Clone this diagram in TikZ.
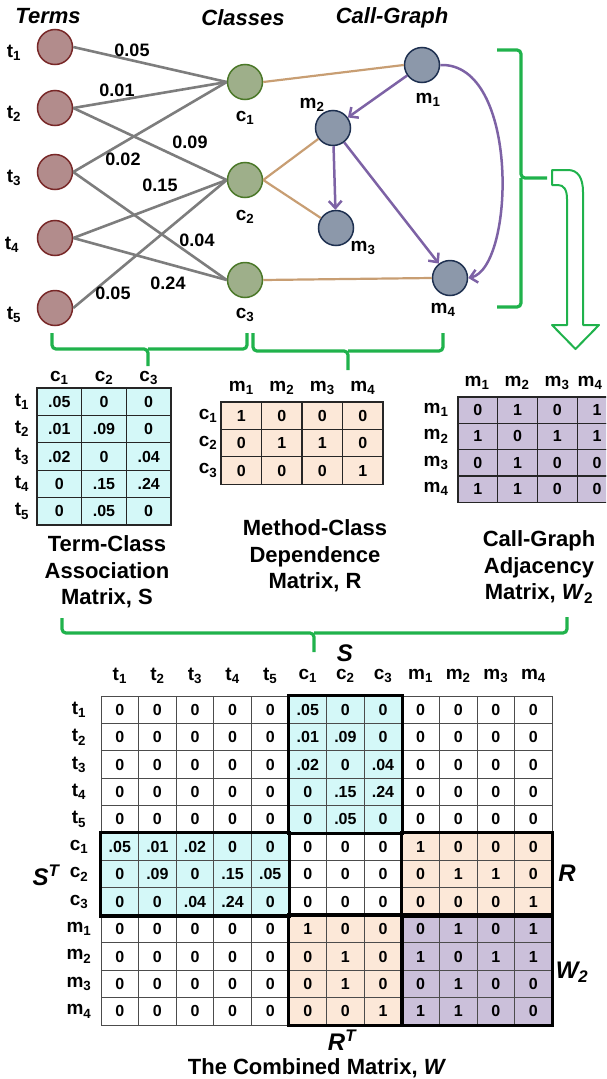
\documentclass[tikz,border=0pt]{standalone}
\usepackage{fontspec}
\setmainfont{Liberation Sans}
\usetikzlibrary{arrows.meta,backgrounds}

\definecolor{termfill}{RGB}{178,140,140}
\definecolor{termline}{RGB}{120,40,40}
\definecolor{clsfill}{RGB}{158,175,138}
\definecolor{clsline}{RGB}{75,120,40}
\definecolor{methfill}{RGB}{140,152,170}
\definecolor{methline}{RGB}{30,48,80}
\definecolor{tcgray}{RGB}{125,125,125}
\definecolor{cmtan}{RGB}{200,158,115}
\definecolor{callpurple}{RGB}{125,98,165}
\definecolor{bracegreen}{RGB}{32,178,76}
\definecolor{scyan}{RGB}{212,248,248}
\definecolor{rpeach}{RGB}{252,232,216}
\definecolor{wlav}{RGB}{203,192,218}

\newcommand{\sbs}[2]{#1\textsubscript{#2}}

\begin{document}
\begin{tikzpicture}[x=1pt, y=-1pt,
  term/.style={circle, draw=termline, fill=termfill, line width=1.5pt, minimum size=35pt, inner sep=0},
  cls/.style={circle, draw=clsline, fill=clsfill, line width=1.5pt, minimum size=35pt, inner sep=0},
  meth/.style={circle, draw=methline, fill=methfill, line width=1.5pt, minimum size=35pt, inner sep=0},
  lbl/.style={font=\fontsize{19}{19}\selectfont\bfseries, inner sep=0},
  wt/.style={font=\fontsize{18}{18}\selectfont\bfseries, inner sep=0},
  head/.style={font=\fontsize{22}{22}\selectfont\bfseries\itshape, inner sep=0},
  bigl/.style={font=\fontsize{24}{24}\selectfont\bfseries\itshape, inner sep=0},
  title/.style={font=\fontsize{22}{26.5}\selectfont\bfseries, align=center, inner sep=0},
  cell/.style={draw=black!85, line width=1.2pt, inner sep=0, font=\fontsize{16}{16}\selectfont\bfseries},
  scell/.style={cell, fill=scyan, minimum width=44.7pt, minimum height=27.4pt},
  rcell/.style={cell, fill=rpeach, minimum width=40.5pt, minimum height=27.4pt},
  wcell/.style={cell, fill=wlav, minimum width=39.7pt, minimum height=26.3pt},
  bcell/.style={cell, draw=black!70, line width=1pt, minimum width=37.6pt, minimum height=27.42pt},
  blk/.style={draw=black, line width=3.5pt},
  tcedge/.style={draw=tcgray, line width=2.6pt},
  cmedge/.style={draw=cmtan, line width=2.2pt},
  call/.style={draw=callpurple, line width=2.5pt, -{Straight Barb[length=7pt, width=13pt]}},
  brace/.style={draw=bracegreen, line width=3.2pt, rounded corners=4pt}]

\useasboundingbox (0,0) rectangle (606,1079);
\clip (0,0) rectangle (606,1079);

% graph
\node[head] (hterms) at (48,16) {Terms};
\node[head] (hclasses) at (243,18) {Classes};
\node[head] (hcall) at (392,18) {Call-Graph};

\node[term] (t1) at (55,47) {};
\node[term] (t2) at (55,108) {};
\node[term] (t3) at (55,172) {};
\node[term] (t4) at (55,238) {};
\node[term] (t5) at (55,308) {};
\node[lbl] (lt1) at (14,53) {\sbs{t}{1}};
\node[lbl] (lt2) at (14,114) {\sbs{t}{2}};
\node[lbl] (lt3) at (14,178) {\sbs{t}{3}};
\node[lbl] (lt4) at (12,245) {\sbs{t}{4}};
\node[lbl] (lt5) at (14,315) {\sbs{t}{5}};

\node[cls] (c1) at (245,82) {};
\node[cls] (c2) at (245,180) {};
\node[cls] (c3) at (245,280) {};
\node[lbl] (lc1) at (245,118) {\sbs{c}{1}};
\node[lbl] (lc2) at (245,217) {\sbs{c}{2}};
\node[lbl] (lc3) at (245,315) {\sbs{c}{3}};

\node[meth] (m1) at (422,65) {};
\node[meth] (m2) at (333,128) {};
\node[meth] (m3) at (336,228) {};
\node[meth] (m4) at (450,278) {};
\node[lbl] (lm1) at (428,100) {\sbs{m}{1}};
\node[lbl] (lm2) at (312,105) {\sbs{m}{2}};
\node[lbl] (lm3) at (363,248) {\sbs{m}{3}};
\node[lbl] (lm4) at (443,310) {\sbs{m}{4}};

\draw[tcedge] (t1.east) -- (c1.west);
\draw[tcedge] (t2.east) -- (c1.west);
\draw[tcedge] (t2.east) -- (c2.west);
\draw[tcedge] (t3.east) -- (c1.west);
\draw[tcedge] (t3.east) -- (c3.west);
\draw[tcedge] (t4.east) -- (c2.west);
\draw[tcedge] (t4.east) -- (c3.west);
\draw[tcedge] (t5.east) -- (c2.west);

\node[wt] (w11) at (132,50) {0.05};
\node[wt] (w21) at (117,90) {0.01};
\node[wt] (w22) at (190,142) {0.09};
\node[wt] (w31) at (123,159) {0.02};
\node[wt] (w42) at (160,185) {0.15};
\node[wt] (w33) at (197,240) {0.04};
\node[wt] (w43) at (168,283) {0.24};
\node[wt] (w52) at (113,293) {0.05};

\draw[cmedge] (c1.east) -- (m1.west);
\draw[cmedge] (c2.east) -- (m2);
\draw[cmedge] (c2.east) -- (m3);
\draw[cmedge] (c3.east) -- (m4.west);

\draw[call] (m1) -- (m2);
\draw[call] (m2) -- (m3);
\draw[call] (m2) -- (m4);
\draw[call] (m1.east) .. controls (520,62) and (515,268) .. (m4.east);

% braces and arrow
\draw[brace] (497,50) -| (521,178) -- (547,178);
\draw[brace] (521,178) |- (497,307);
\draw[draw=bracegreen, line width=2pt, line join=round] (552,170) -- (568,170) .. controls (578,170) and (583,178) .. (583,192) -- (583,325) -- (599,325) -- (575.5,349) -- (552,325) -- (567,325) -- (567,199) .. controls (567,190) and (564,185) .. (558,185) -- (552,185) -- cycle;

\draw[brace] (52,333) |- (148,349) -- (148,366);
\draw[brace] (148,349) -| (247,333);
\draw[brace] (253,333) |- (348,351) -- (348,370);
\draw[brace] (348,351) -| (443,333);

% S
\foreach \n [count=\ci] in {1,2,3}
  \node[lbl] (S-h\ci) at ({37+44.67*(\ci-0.5)},378) {\sbs{c}{\n}};
\foreach \n [count=\ri] in {1,2,3,4,5}
  \node[lbl] (S-r\ri) at (22,{388+27.4*(\ri-0.5)}) {\sbs{t}{\n}};
\foreach \row [count=\ri] in {{.05,0,0},{.01,.09,0},{.02,0,.04},{0,.15,.24},{0,.05,0}}
  \foreach \v [count=\ci] in \row
    \node[scell] (S-\ri-\ci) at ({37+44.67*(\ci-0.5)},{388+27.4*(\ri-0.5)}) {\v};
\node[title] (Stitle) at (107,572) {Term-Class\\Association\\Matrix, S};

% R
\foreach \n [count=\ci] in {1,2,3,4}
  \node[lbl] (R-h\ci) at ({221+40.5*(\ci-0.5)},388) {\sbs{m}{\n}};
\foreach \n [count=\ri] in {1,2,3}
  \node[lbl] (R-r\ri) at (208,{402+27.4*(\ri-0.5)}) {\sbs{c}{\n}};
\foreach \row [count=\ri] in {{1,0,0,0},{0,1,1,0},{0,0,0,1}}
  \foreach \v [count=\ci] in \row
    \node[rcell] (R-\ri-\ci) at ({221+40.5*(\ci-0.5)},{402+27.4*(\ri-0.5)}) {\v};
\node[title] (Rtitle) at (315,556) {Method-Class\\Dependence\\Matrix, R};

% W2
\foreach \n/\hx in {1/477,2/517,3/557,4/590}
  \node[lbl] (V-h\n) at (\hx,383) {\sbs{m}{\n}};
\foreach \n [count=\ri] in {1,2,3,4}
  \node[lbl] (V-r\ri) at (436,{397+26.3*(\ri-0.5)}) {\sbs{m}{\n}};
\foreach \row [count=\ri] in {{0,1,0,1},{1,0,1,1},{0,1,0,0},{1,1,0,0}}
  \foreach \v [count=\ci] in \row
    \node[wcell] (V-\ri-\ci) at ({458+39.7*(\ci-0.5)},{397+26.3*(\ri-0.5)}) {\v};
\node[title] (Vtitle) at (539,567) {Call-Graph\\Adjacency\\Matrix, \textit{W}\textsubscript{2}};

\draw[brace] (62,618) |- (314,633) -- (314,652);
\draw[brace] (314,633) -| (567,617);

% combined W
\foreach \l/\n [count=\ci] in {t/1,t/2,t/3,t/4,t/5,c/1,c/2,c/3,m/1,m/2,m/3,m/4} {
  \node[lbl] (W-h\ci) at ({101+37.6*(\ci-0.5)},676) {\sbs{\l}{\n}};
  \node[lbl] (W-r\ci) at (79,{696+27.42*(\ci-0.5)}) {\sbs{\l}{\n}};
}
\foreach \row [count=\ri] in {
  {0,0,0,0,0,.05,0,0,0,0,0,0},
  {0,0,0,0,0,.01,.09,0,0,0,0,0},
  {0,0,0,0,0,.02,0,.04,0,0,0,0},
  {0,0,0,0,0,0,.15,.24,0,0,0,0},
  {0,0,0,0,0,0,.05,0,0,0,0,0},
  {.05,.01,.02,0,0,0,0,0,1,0,0,0},
  {0,.09,0,.15,.05,0,0,0,0,1,1,0},
  {0,0,.04,.24,0,0,0,0,0,0,0,1},
  {0,0,0,0,0,1,0,0,0,1,0,1},
  {0,0,0,0,0,0,1,0,1,0,1,1},
  {0,0,0,0,0,0,1,0,0,1,0,0},
  {0,0,0,0,0,0,0,1,1,1,0,0}}
  \foreach \v [count=\ci] in \row
    \node[bcell] (W-\ri-\ci) at ({101+37.6*(\ci-0.5)},{696+27.42*(\ri-0.5)}) {\v};

\begin{scope}[on background layer]
\fill[scyan] (W-1-6.north west) rectangle (W-5-8.south east);
\fill[scyan] (W-6-1.north west) rectangle (W-8-5.south east);
\fill[rpeach] (W-6-9.north west) rectangle (W-8-12.south east);
\fill[rpeach] (W-9-6.north west) rectangle (W-12-8.south east);
\fill[wlav] (W-9-9.north west) rectangle (W-12-12.south east);
\end{scope}
\draw[blk] (W-1-6.north west) rectangle (W-5-8.south east);
\draw[blk] (W-6-1.north west) rectangle (W-8-5.south east);
\draw[blk] (W-6-9.north west) rectangle (W-8-12.south east);
\draw[blk] (W-9-6.north west) rectangle (W-12-8.south east);
\draw[blk] (W-9-9.north west) rectangle (W-12-12.south east);

\node[bigl] (lS) at (345,653) {S};
\node[bigl] (lST) at (46,875) {S\textsuperscript{T}};
\node[bigl] (lR) at (567,873) {R};
\node[bigl] (lW) at (572,972) {W\textsubscript{2}};
\node[bigl] (lRT) at (342,1040) {R\textsuperscript{T}};
\node[title, anchor=base] (Wtitle) at (317,1074) {The Combined Matrix, \textit{W}};

\end{tikzpicture}
\end{document}
